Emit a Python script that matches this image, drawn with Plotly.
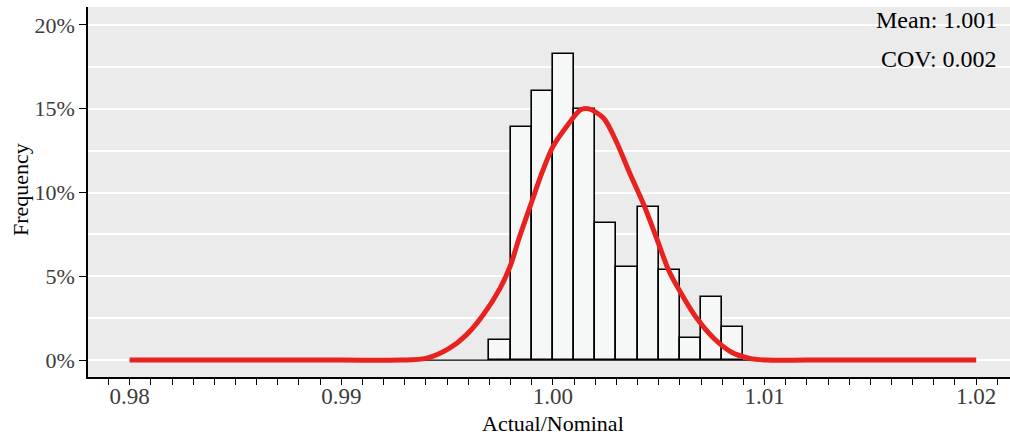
import plotly.graph_objects as go

# Histogram bins (left edges) and frequencies (%)
bin_left = [0.997, 0.998, 0.999, 1.000, 1.001, 1.002, 1.003, 1.004, 1.005, 1.006, 1.007, 1.008]
freq_pct = [1.19, 13.9, 16.04, 18.27, 14.98, 8.2, 5.57, 9.15, 5.37, 1.29, 3.78, 1.99]
bin_width = 0.001

# Fitted curve
curve_x = [0.980, 0.990, 0.9928, 0.9940, 0.9951, 0.9959, 0.9967, 0.9975, 0.9980, 0.9984, 0.9990,
           0.9995, 1.0000, 1.0007, 1.0013, 1.0017, 1.0024, 1.0030, 1.0036, 1.0043, 1.0049,
           1.0055, 1.0062, 1.0068, 1.0076, 1.0084, 1.0093, 1.0101, 1.012, 1.020]
curve_y = [0.0, 0.0, 0.0, 0.10, 0.70, 1.49, 2.69, 4.28, 5.67, 7.27, 9.45,
           11.24, 12.74, 14.03, 14.93, 14.99, 14.43, 13.03, 11.24, 9.25, 7.27,
           5.27, 3.68, 2.49, 1.30, 0.50, 0.10, 0.0, 0.0, 0.0]

x_ticks = [0.98, 0.99, 1.00, 1.01, 1.02]
x_ticktext = ["0.98", "0.99", "1.00", "1.01", "1.02"]
y_ticks = [0, 5, 10, 15, 20]
y_ticktext = ["0%", "5%", "10%", "15%", "20%"]

mean_label = "Mean: 1.001"
cov_label = "COV: 0.002"
x_title = "Actual/Nominal"
y_title = "Frequency"

FONT = "Liberation Serif, Times New Roman, serif"

centers = [b + bin_width / 2 for b in bin_left]

fig = go.Figure()

fig.add_trace(go.Bar(
    x=centers, y=freq_pct, width=[bin_width] * len(centers),
    marker=dict(color="#F6F7F7", line=dict(color="black", width=1.6)),
    hoverinfo="skip", showlegend=False,
))

# baseline under the curve
fig.add_trace(go.Scatter(
    x=[curve_x[0], curve_x[-1]], y=[0, 0], mode="lines",
    line=dict(color="black", width=1.2), hoverinfo="skip", showlegend=False,
))

fig.add_trace(go.Scatter(
    x=curve_x, y=curve_y, mode="lines",
    line=dict(color="#E8231F", width=5, shape="spline", smoothing=0.8),
    hoverinfo="skip", showlegend=False,
))

fig.update_layout(
    width=1010, height=436,
    margin=dict(l=88, r=0, t=7, b=59),
    paper_bgcolor="white",
    plot_bgcolor="#EBEBEB",
    bargap=0,
    font=dict(family=FONT, color="black"),
    xaxis=dict(
        range=[0.97803, 1.0216],
        tickvals=x_ticks, ticktext=x_ticktext,
        ticks="outside", ticklen=6, tickcolor="black", tickwidth=1.2,
        tickfont=dict(size=23, color="#3C3C3C", family=FONT),
        ticklabelstandoff=-8,
        showgrid=False, zeroline=False,
        showline=True, linecolor="black", linewidth=1.5,
        minor=dict(dtick=0.001, ticks="outside", ticklen=6, tickcolor="black", tickwidth=1.2, showgrid=False),
    ),
    yaxis=dict(
        range=[-1.01, 21.07],
        tickvals=y_ticks, ticktext=y_ticktext,
        ticks="outside", ticklen=7, tickcolor="black", tickwidth=1.2,
        tickfont=dict(size=22, color="#3C3C3C", family=FONT),
        showgrid=True, gridcolor="white", gridwidth=1.5,
        zeroline=False,
        showline=True, linecolor="black", linewidth=1.5,
        minor=dict(dtick=2.5, tick0=0, showgrid=True, gridcolor="white", gridwidth=1.5, ticks=""),
    ),
    annotations=[
        dict(text=mean_label, xref="paper", yref="paper", x=0.988, y=0.965,
             xanchor="right", yanchor="middle", showarrow=False,
             font=dict(size=24, color="black", family=FONT)),
        dict(text=cov_label, xref="paper", yref="paper", x=0.988, y=0.859,
             xanchor="right", yanchor="middle", showarrow=False,
             font=dict(size=24, color="black", family=FONT)),
        dict(text=x_title, xref="paper", yref="paper", x=(553 - 88) / 922, y=(377 - 423) / 370,
             xanchor="center", yanchor="middle", showarrow=False,
             font=dict(size=22, color="black", family=FONT)),
        dict(text=y_title, xref="paper", yref="paper", x=(20 - 88) / 922, y=(377 - 190) / 370,
             xanchor="center", yanchor="middle", showarrow=False, textangle=-90,
             font=dict(size=22, color="black", family=FONT)),
    ],
)

fig.write_html("out.html")
